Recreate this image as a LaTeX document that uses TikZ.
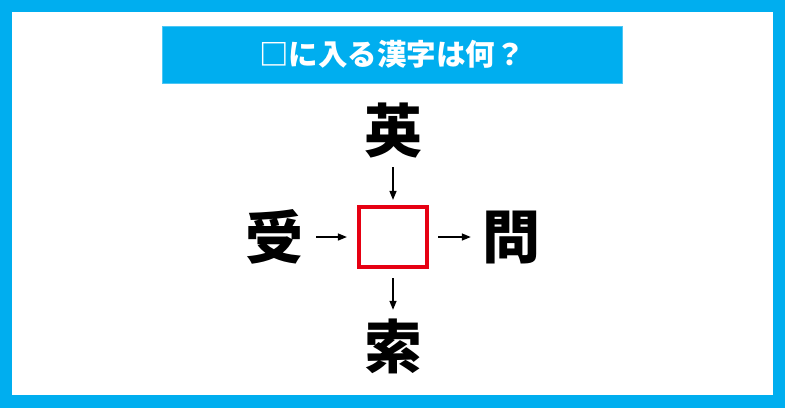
\documentclass[tikz,border=0pt]{standalone}
\usepackage{fontspec}
\newfontfamily\jp{Noto Sans CJK JP}
\usetikzlibrary{arrows.meta}
\definecolor{skyblue}{RGB}{0,174,239}
\definecolor{boxred}{RGB}{230,0,18}
\tikzset{
	kanji/.style={font=\jp\bfseries\fontsize{58}{58}\selectfont, minimum size=56pt, inner sep=0pt},
	arr/.style={line width=1.4pt, -{Triangle[length=9pt,width=7pt]}}
}

\begin{document}
\begin{tikzpicture}[x=1pt,y=-1pt]
				\fill[skyblue] (0,0) rectangle (785,408);
				\fill[white] (12,12) rectangle (773,395);
				
				\node[fill=skyblue, draw=skyblue!70, minimum width=460pt, minimum height=57pt, inner sep=0pt, text=white, font=\jp\bfseries\fontsize{29.5}{29.5}\selectfont] (title) at (392,54.5) {□に入る漢字は何？};
				
				\node[draw=boxred, line width=4.3pt, minimum width=68pt, minimum height=60pt, outer sep=2.1pt] (box) at (393,237) {};
				
				\node[kanji] (ei) at (393,131) {英};
				\node[kanji] (ju) at (274.5,237) {受};
				\node[kanji] (mon) at (511,237) {問};
				\node[kanji] (saku) at (393,346.5) {索};
				
				\draw[arr, shorten <=8pt, shorten >=5pt] (ei) -- (box);
				\draw[arr, shorten <=12.5pt, shorten >=10pt] (ju) -- (box);
				\draw[arr, shorten <=9pt, shorten >=11pt] (box) -- (mon);
				\draw[arr, shorten <=9pt, shorten >=8.5pt] (box) -- (saku);
\end{tikzpicture}
\end{document}
